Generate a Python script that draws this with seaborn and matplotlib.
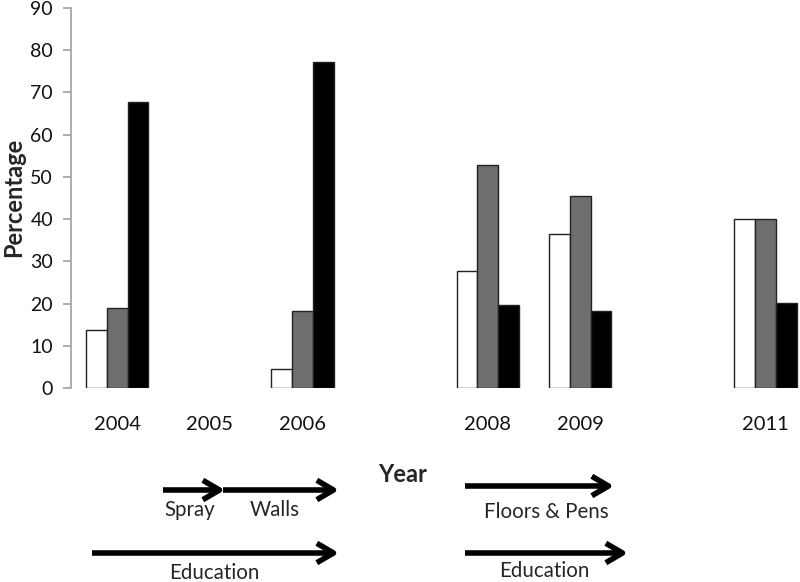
import numpy as np
import pandas as pd
import seaborn as sns
import matplotlib.pyplot as plt

years = ['2004', '2005', '2006', '2007', '2008', '2009', '2010', '2011']
year_labels = ['2004', '2005', '2006', '', '2008', '2009', '', '2011']
white_vals = [13.7, np.nan, 4.6, np.nan, 27.8, 36.4, np.nan, 40.0]
gray_vals = [19.0, np.nan, 18.2, np.nan, 52.8, 45.5, np.nan, 40.0]
black_vals = [67.7, np.nan, 77.3, np.nan, 19.6, 18.2, np.nan, 20.1]
series = ['A', 'B', 'C']
colors = ['#ffffff', '#6e6e6e', '#000000']

sns.set_style('white')
plt.rcParams['font.family'] = ['Lato', 'DejaVu Sans']

rows = []
for s, vals in zip(series, [white_vals, gray_vals, black_vals]):
    for y, v in zip(years, vals):
        rows.append({'Year': y, 'Series': s, 'Value': v})
df = pd.DataFrame(rows).dropna()

fig = plt.figure(figsize=(8, 5.82), dpi=100)
ax = fig.add_axes([71 / 800, 194 / 582, 729 / 800, 380 / 582])

sns.barplot(data=df, x='Year', y='Value', hue='Series', order=years,
            hue_order=series, palette=colors, width=0.67,
            edgecolor='#222222', linewidth=1, legend=False, ax=ax)

ax.set_ylim(0, 90)
ax.set_xlim(-0.5, -0.5 + 729 / 92.6)
ax.set_yticks(range(0, 91, 10))
ax.set_xticks(range(len(years)))
ax.set_xticklabels(year_labels)
ax.set_xlabel('')
ax.set_ylabel('')

for side in ['top', 'right', 'bottom']:
    ax.spines[side].set_visible(False)
ax.spines['left'].set_color('#a0a0a0')
ax.spines['left'].set_linewidth(1.2)
ax.tick_params(axis='y', left=True, length=6, width=1.2, color='#a0a0a0',
               pad=7, labelsize=14, labelcolor='#111111')
ax.tick_params(axis='x', bottom=False, length=0, pad=20, labelsize=14.5,
               labelcolor='#111111')

fig.text(14 / 800, 1 - 197 / 582, 'Percentage', rotation=90, ha='center',
         va='center', fontsize=17, fontweight='bold')
fig.text(403 / 800, 1 - 474 / 582, 'Year', ha='center', va='center',
         fontsize=17, fontweight='bold')

def arrow(x0, x1, y):
    ax.annotate('', xy=(x1, 582 - y), xytext=(x0, 582 - y),
                xycoords='figure pixels', textcoords='figure pixels',
                arrowprops=dict(arrowstyle='->, head_length=1.2, head_width=0.7',
                                lw=4, color='black', shrinkA=0, shrinkB=0,
                                capstyle='butt', joinstyle='round'))

arrow(163, 225, 490)
arrow(223, 339, 490)
arrow(92, 339, 553)
arrow(465, 614, 486)
arrow(465, 628, 553)

# (text, x centre, baseline y) in pixels from the top-left
labels = [('Spray', 190, 516), ('Walls', 275, 516), ('Education', 214, 579),
          ('Floors & Pens', 546, 518), ('Education', 544, 577)]
for t, x, y in labels:
    fig.text(x / 800, 1 - y / 582, t, ha='center', va='baseline', fontsize=14.8)

fig.savefig('out.png', dpi=100)
